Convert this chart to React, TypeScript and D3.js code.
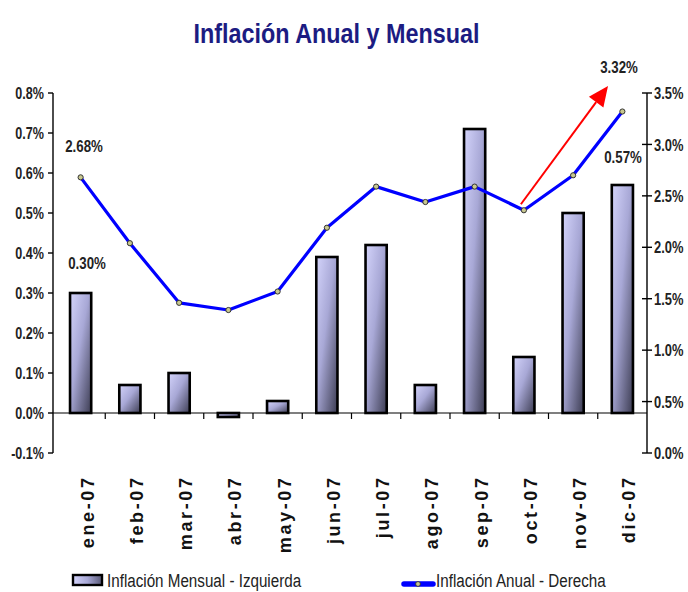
import React from "react";
import * as d3 from "d3";

const months = ["ene-07","feb-07","mar-07","abr-07","may-07","jun-07","jul-07","ago-07","sep-07","oct-07","nov-07","dic-07"];
const mensual = [0.30, 0.07, 0.10, -0.01, 0.03, 0.39, 0.42, 0.07, 0.71, 0.14, 0.50, 0.57];
const anual = [2.68, 2.04, 1.46, 1.39, 1.57, 2.19, 2.59, 2.44, 2.59, 2.36, 2.70, 3.32];
const leftTicks = [-0.1, 0, 0.1, 0.2, 0.3, 0.4, 0.5, 0.6, 0.7, 0.8];
const rightTicks = [0, 0.5, 1.0, 1.5, 2.0, 2.5, 3.0, 3.5];
const title = "Inflación Anual y Mensual";
const legendBar = "Inflación Mensual - Izquierda";
const legendLine = "Inflación Anual - Derecha";

const FONT = "'Liberation Sans', Arial, sans-serif";

type NTProps = { x: number; y: number; size: number; sx: number; anchor?: string; weight?: string; fill?: string; dy?: string; children: React.ReactNode };
function NText({ x, y, size, sx, anchor = "start", weight = "normal", fill = "#222", dy, children }: NTProps) {
  return (
    <text transform={`translate(${x},${y}) scale(${sx},1)`} textAnchor={anchor} fontSize={size} fontWeight={weight} fill={fill} dy={dy}>
      {children}
    </text>
  );
}

export default function App() {
  const W = 688, H = 592;
  const x = d3.scaleBand<string>().domain(months).range([56, 647]).paddingInner(0.57).paddingOuter(0.285);
  const yL = d3.scaleLinear().domain([-0.1, 0.8]).range([453, 93]);
  const yR = d3.scaleLinear().domain([0, 3.5]).range([453, 93]);
  const cx = (m: string) => (x(m) as number) + x.bandwidth() / 2;
  const step = x.step();
  const line = d3.line<number>().x((_, i) => cx(months[i])).y(d => yR(d));
  const fmtL = (v: number) => v.toFixed(1) + "%";
  const x0 = 53, x1 = 647;
  const zero = yL(0);

  const octX = cx(months[9]) - 3, octY = yR(anual[9]) - 6;
  const tipX = 608, tipY = 86;
  const ang = Math.atan2(tipY - octY, tipX - octX);
  const hl = 20, hw = 9;
  const bx = tipX - hl * Math.cos(ang), by = tipY - hl * Math.sin(ang);
  const head = `${tipX},${tipY} ${bx + hw * Math.sin(ang)},${by - hw * Math.cos(ang)} ${bx - hw * Math.sin(ang)},${by + hw * Math.cos(ang)}`;

  return (
    <svg width={W} height={H} style={{ position: "absolute", left: 0, top: 0, background: "#fff" }} fontFamily={FONT}>
      <defs>
        <linearGradient id="barg" x1="0" y1="0" x2="1" y2="1">
          <stop offset="0%" stopColor="#d4d4fb" />
          <stop offset="45%" stopColor="#a8a8d6" />
          <stop offset="100%" stopColor="#3c3c52" />
        </linearGradient>
        <linearGradient id="legg" x1="0" y1="0" x2="1" y2="0">
          <stop offset="0%" stopColor="#d4d4fb" />
          <stop offset="50%" stopColor="#a8a8d6" />
          <stop offset="100%" stopColor="#5a5a78" />
        </linearGradient>
      </defs>
      <rect width={W} height={H} fill="#fff" />
      <NText x={336.5} y={43} size={28} sx={0.835} anchor="middle" weight="bold" fill="#1c1c82">{title}</NText>

      {/* bars */}
      {months.map((m, i) => {
        const v = mensual[i];
        const top = Math.min(yL(v), zero), h = Math.abs(yL(v) - zero);
        return <rect key={m} x={x(m)} y={top} width={x.bandwidth()} height={Math.max(h, 1)} fill="url(#barg)" stroke="#000" strokeWidth={2.6} />;
      })}

      {/* baseline & category ticks */}
      <line x1={x0} x2={x1} y1={zero} y2={zero} stroke="#000" strokeWidth={1.2} />
      {months.slice(1).map(m => {
        const bxp = (x(m) as number) - step * 0.285;
        return <line key={m} x1={bxp} x2={bxp} y1={zero} y2={zero + 6} stroke="#000" strokeWidth={1.2} />;
      })}

      {/* left axis */}
      <line x1={x0} x2={x0} y1={yL(0.8)} y2={yL(-0.1)} stroke="#000" strokeWidth={1.4} />
      {leftTicks.map(t => (
        <g key={t}>
          <line x1={x0 - 5} x2={x0} y1={yL(t)} y2={yL(t)} stroke="#000" strokeWidth={1.4} />
          <NText x={44} y={yL(t)} dy="0.36em" size={17} sx={0.74} anchor="end" weight="bold" fill="#222">{fmtL(t)}</NText>
        </g>
      ))}

      {/* right axis */}
      <line x1={x1} x2={x1} y1={yR(3.5)} y2={yR(0)} stroke="#000" strokeWidth={1.4} />
      {rightTicks.map(t => (
        <g key={t}>
          <line x1={x1 - 5} x2={x1 + 5} y1={yR(t)} y2={yR(t)} stroke="#000" strokeWidth={1.4} />
          <NText x={654} y={yR(t)} dy="0.36em" size={17} sx={0.76} anchor="start" weight="bold" fill="#222">{fmtL(t)}</NText>
        </g>
      ))}

      {/* x labels */}
      {months.map(m => (
        <text key={m} transform={`translate(${cx(m) + 13},475.5) rotate(-90)`} textAnchor="end" fontSize={18} fontWeight="bold" letterSpacing={2.6} fill="#111">{m}</text>
      ))}

      {/* red arrow */}
      <line x1={octX} y1={octY} x2={bx} y2={by} stroke="#ff0000" strokeWidth={2} />
      <polygon points={head} fill="#ff0000" />

      {/* line */}
      <path d={line(anual) as string} fill="none" stroke="#0000ff" strokeWidth={3.2} strokeLinejoin="round" />
      {anual.map((v, i) => (
        <circle key={i} cx={cx(months[i])} cy={yR(v)} r={2.6} fill="#c8c890" stroke="#333" strokeWidth={1} />
      ))}

      {/* annotations */}
      <NText x={84} y={152} size={17} sx={0.78} anchor="middle" weight="bold">2.68%</NText>
      <NText x={87} y={269} size={17} sx={0.78} anchor="middle" weight="bold">0.30%</NText>
      <NText x={619} y={73} size={17} sx={0.78} anchor="middle" weight="bold">3.32%</NText>
      <NText x={623} y={163} size={17} sx={0.78} anchor="middle" weight="bold">0.57%</NText>

      {/* legend */}
      <rect x={73} y={575} width={29} height={10} fill="url(#legg)" stroke="#000" strokeWidth={2.4} />
      <NText x={107} y={587} size={19} sx={0.8}>{legendBar}</NText>
      <line x1={404} x2={433} y1={584} y2={584} stroke="#0000ff" strokeWidth={5.5} strokeLinecap="round" />
      <circle cx={418} cy={584} r={2.4} fill="#c8c890" stroke="#333" strokeWidth={0.9} />
      <NText x={436} y={587} size={19} sx={0.8}>{legendLine}</NText>
    </svg>
  );
}
